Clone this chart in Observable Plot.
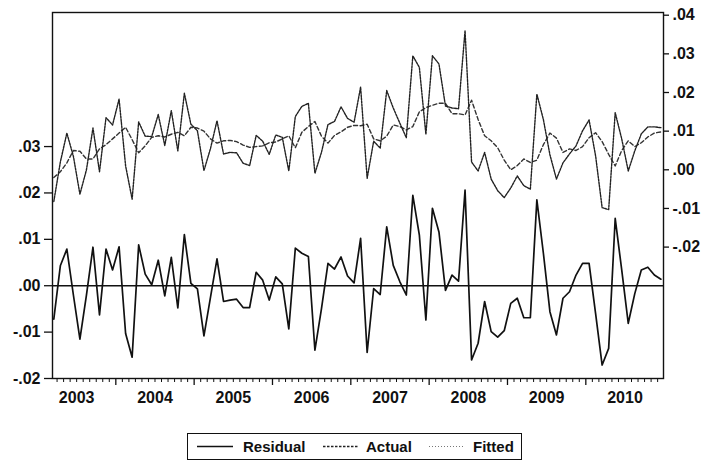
<!DOCTYPE html>
<html><head><meta charset="utf-8">
<script src="https://cdn.jsdelivr.net/npm/d3@7"></script>
<script src="https://cdn.jsdelivr.net/npm/@observablehq/plot@0.6"></script>
<style>
body{margin:0;background:#fff;font-family:"Liberation Sans",Arial,sans-serif;}
#chart{position:relative;width:705px;height:420px;}
#chart svg{position:absolute;left:0;top:0;}
#legend{position:relative;margin-top:13px;margin-left:187px;width:333px;height:25px;border:1.5px solid #111;}
#legend .s{position:absolute;top:0;}
#legend .t{position:absolute;top:4px;font-size:15px;font-weight:bold;color:#111;}
</style></head><body>
<div id="chart"></div>
<div id="legend">
  <svg class="s" style="left:9px" width="36" height="25"><line x1="0" x2="36" y1="12.5" y2="12.5" stroke="#111" stroke-width="1.6"/></svg>
  <span class="t" style="left:55px">Residual</span>
  <svg class="s" style="left:135px" width="36" height="25"><line x1="0" x2="36" y1="12.5" y2="12.5" stroke="#222" stroke-width="1.4" stroke-dasharray="2.5,1.5"/></svg>
  <span class="t" style="left:178px">Actual</span>
  <svg class="s" style="left:241px" width="34" height="25"><line x1="0" x2="34" y1="12.5" y2="12.5" stroke="#777" stroke-width="1.2" stroke-dasharray="1,2"/></svg>
  <span class="t" style="left:285px">Fitted</span>
</div>
<script>
const years = ["2003","2004","2005","2006","2007","2008","2009","2010"];
// monthly observations 2003M3 .. 2010M12
const residual = [-0.0072,0.0043,0.0079,-0.002,-0.0115,-0.002,0.0083,-0.0063,0.0079,0.0034,
 0.0084,-0.0103,-0.0154,0.0088,0.0025,0.0002,0.0055,-0.0022,0.0061,-0.0048,
 0.011,0.0005,-0.0007,-0.0108,-0.0025,0.0058,-0.0034,-0.0031,-0.0029,-0.0047,
 -0.0047,0.0029,0.0012,-0.0031,0.0019,0.0004,-0.0093,0.0081,0.007,0.0063,
 -0.0139,-0.005,0.0048,0.0036,0.0062,0.0021,0.0006,0.0102,-0.0144,-0.0006,
 -0.0019,0.0127,0.0044,0.0009,-0.002,0.0195,0.0109,-0.0074,0.0167,0.0116,
 -0.001,0.0023,0.001,0.0206,-0.016,-0.0124,-0.0034,-0.0099,-0.0111,-0.0097,
 -0.0038,-0.0027,-0.0069,-0.0069,0.0185,0.007,-0.0056,-0.0106,-0.0027,-0.0013,
 0.0023,0.0048,0.0048,-0.006,-0.0171,-0.0135,0.0145,0.0034,-0.0081,-0.0017,
 0.0034,0.004,0.0023,0.0014];
const actual = [-0.0082,0.002,0.0095,0.0035,-0.0063,0.0,0.0108,-0.0005,0.0135,0.0116,
 0.0183,0.001,-0.0076,0.0124,0.0087,0.0086,0.0143,0.0063,0.0153,0.0049,
 0.0198,0.0118,0.0101,-0.0002,0.0055,0.0127,0.0041,0.0045,0.0044,0.0017,
 0.0011,0.0089,0.0074,0.004,0.009,0.0084,-0.0003,0.0138,0.0164,0.0172,
 -0.0009,0.0045,0.0117,0.0125,0.0163,0.0133,0.0123,0.0214,-0.0022,0.0074,
 0.0056,0.0205,0.016,0.0121,0.0083,0.0295,0.0265,0.0092,0.0295,0.0274,
 0.0165,0.016,0.0158,0.036,0.002,-0.0003,0.0045,-0.0024,-0.0054,-0.0072,
 -0.0047,-0.0016,-0.0041,-0.005,0.0196,0.013,0.0039,-0.0024,0.0018,0.0041,
 0.0062,0.0101,0.0129,0.0036,-0.0098,-0.0103,0.0148,0.008,-0.0003,0.0049,
 0.0093,0.0111,0.0111,0.0109];
const fitted = [-0.002,-0.0005,0.0018,0.005,0.0048,0.0028,0.0028,0.0054,0.0065,0.008,
 0.0095,0.011,0.0078,0.0044,0.0062,0.0084,0.0088,0.0085,0.0092,0.0097,
 0.0088,0.011,0.0108,0.01,0.008,0.0069,0.0075,0.0076,0.0073,0.0064,
 0.0058,0.006,0.0062,0.007,0.0072,0.008,0.0088,0.0057,0.0097,0.0112,
 0.0125,0.0087,0.0069,0.0089,0.0098,0.011,0.0115,0.0114,0.0118,0.008,
 0.0075,0.0087,0.0116,0.0112,0.0103,0.0112,0.015,0.0161,0.0167,0.0172,
 0.0172,0.0145,0.0145,0.0142,0.018,0.013,0.0088,0.0075,0.0057,0.0025,
 0.0,0.0011,0.0028,0.0019,0.0025,0.0065,0.0095,0.0082,0.0045,0.0054,
 0.005,0.006,0.0083,0.0096,0.0073,0.004,0.001,0.005,0.0075,0.006,
 0.007,0.0085,0.0095,0.0098];
const leftTicks = [-0.02,-0.01,0,0.01,0.02,0.03];
const rightTicks = [-0.02,-0.01,0,0.01,0.02,0.03,0.04];

const n = residual.length;
const idx = d3.range(n);
const fmt = d => (d < -1e-9 ? "-" : "") + d3.format(".2f")(Math.abs(d)).replace(/^0/, "");
const yearBounds = years.slice(1).map((y, k) => 9.5 + 12 * k);
const monthTicks = d3.range(0, n - 1).map(i => i + 0.5).filter(t => !yearBounds.includes(t));
const labelPos = years.map((y, k) => 3.5 + 12 * k);

const common = {
  width: 705, height: 420,
  marginLeft: 52, marginRight: 42, marginTop: 12, marginBottom: 42,
  style: {fontFamily: "Liberation Sans, Arial, sans-serif", fontSize: "16px", fontWeight: "bold", color: "#111", background: "transparent", overflow: "visible"}
};

const p1 = Plot.plot({
  ...common,
  x: {domain: [-0.2, 93.4]},
  y: {domain: [-0.02, 0.0589]},
  marks: [
    Plot.axisY({ticks: leftTicks, tickFormat: fmt, tickSize: 8, tickPadding: 4, label: null, strokeWidth: 1.3}),
    Plot.axisX({ticks: monthTicks, tickSize: 4, tickFormat: () => "", label: null}),
    Plot.axisX({ticks: yearBounds, tickSize: 7, tickFormat: () => "", label: null, strokeWidth: 1.3}),
    Plot.axisX({ticks: labelPos, tickSize: 0, tickPadding: 13, tickFormat: d => years[Math.round((d - 3.5) / 12)], label: null}),
    Plot.frame({stroke: "#111", strokeWidth: 1.4}),
    Plot.ruleY([0], {stroke: "#111", strokeWidth: 1.5}),
    Plot.line(idx, {x: i => i, y: i => residual[i], stroke: "#111", strokeWidth: 1.7})
  ]
});

const p2 = Plot.plot({
  ...common,
  x: {domain: [-0.2, 93.4], axis: null},
  y: {domain: [-0.054, 0.0407]},
  marks: [
    Plot.axisY({anchor: "right", ticks: rightTicks, tickFormat: fmt, tickSize: 5, tickPadding: 4, label: null, strokeWidth: 1.3}),
    Plot.line(idx, {x: i => i, y: i => fitted[i], stroke: "#333", strokeWidth: 1.4, strokeDasharray: "4,2.5"}),
    Plot.line(idx, {x: i => i, y: i => actual[i], stroke: "#222", strokeWidth: 1.4, strokeDasharray: "2,1.2"})
  ]
});

document.getElementById("chart").append(p1, p2);
</script>
</body></html>
